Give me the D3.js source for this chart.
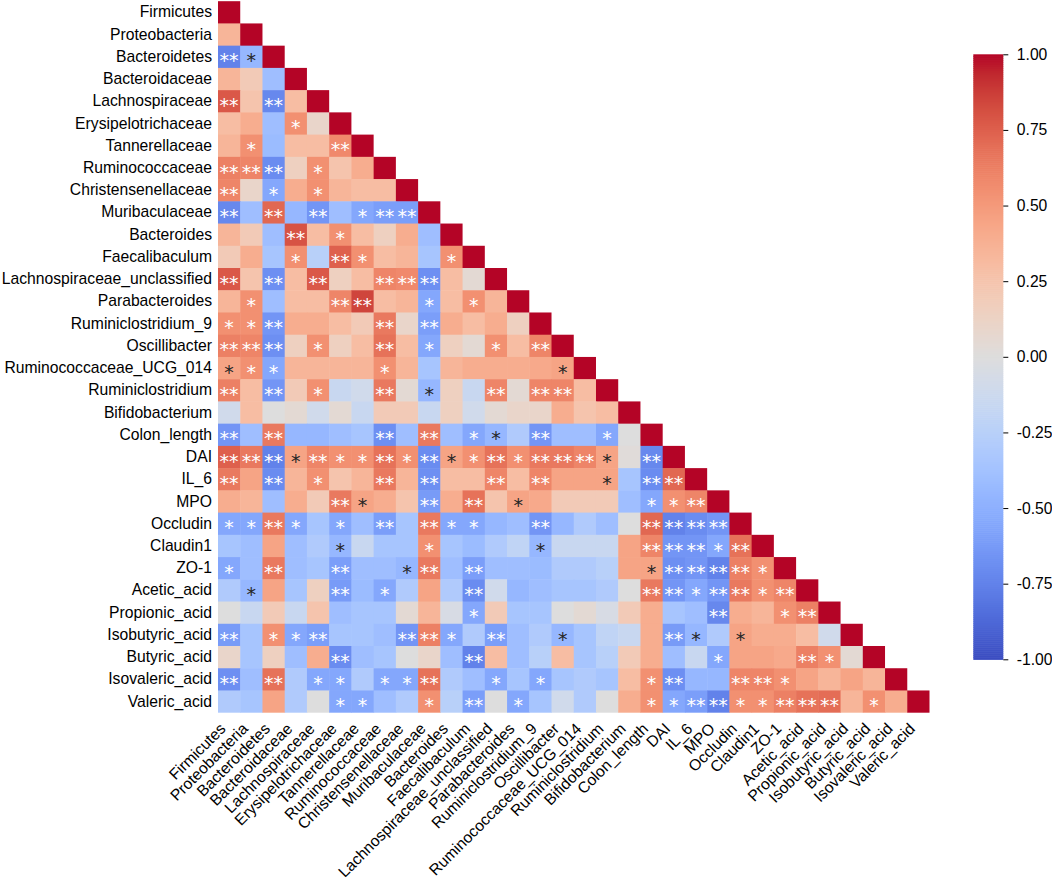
<!DOCTYPE html>
<html>
<head>
<meta charset="utf-8">
<script src="https://cdn.jsdelivr.net/npm/d3@7"></script>
<style>
  body { margin: 0; background: #fff; }
  svg { display: block; }
  text { font-family: "Liberation Sans", Arial, sans-serif; }
</style>
</head>
<body>
<svg id="chart" width="1052" height="879"></svg>
<script>
// ---------------- DATA ----------------
const labels = [
  "Firmicutes","Proteobacteria","Bacteroidetes","Bacteroidaceae","Lachnospiraceae",
  "Erysipelotrichaceae","Tannerellaceae","Ruminococcaceae","Christensenellaceae",
  "Muribaculaceae","Bacteroides","Faecalibaculum","Lachnospiraceae_unclassified",
  "Parabacteroides","Ruminiclostridium_9","Oscillibacter","Ruminococcaceae_UCG_014",
  "Ruminiclostridium","Bifidobacterium","Colon_length","DAI","IL_6","MPO","Occludin",
  "Claudin1","ZO-1","Acetic_acid","Propionic_acid","Isobutyric_acid","Butyric_acid",
  "Isovaleric_acid","Valeric_acid"
];

// lower-triangle correlation values (row i: columns 0..i)
const corr = [
  [1],
  [0.35, 1],
  [-0.75, -0.45, 1],
  [0.35, 0.2, -0.4, 1],
  [0.78, 0.25, -0.72, 0.3, 1],
  [0.3, 0.4, -0.4, 0.55, 0.1, 1],
  [0.35, 0.55, -0.42, 0.3, 0.3, 0.58, 1],
  [0.62, 0.6, -0.7, 0.15, 0.55, 0.25, 0.4, 1],
  [0.6, 0.1, -0.55, 0.4, 0.55, 0.35, 0.3, 0.3, 1],
  [-0.72, -0.4, 0.72, -0.45, -0.65, -0.4, -0.55, -0.6, -0.6, 1],
  [0.35, 0.2, -0.4, 0.8, 0.3, 0.55, 0.3, 0.15, 0.4, -0.4, 1],
  [0.2, 0.4, -0.35, 0.55, -0.25, 0.75, 0.55, 0.3, 0.35, -0.35, 0.55, 1],
  [0.78, 0.25, -0.68, 0.3, 0.78, 0.15, 0.3, 0.6, 0.58, -0.68, 0.3, 0.05, 1],
  [0.35, 0.55, -0.4, 0.3, 0.3, 0.6, 0.85, 0.3, 0.35, -0.55, 0.3, 0.55, 0.35, 1],
  [0.55, 0.55, -0.65, 0.4, 0.4, 0.3, 0.2, 0.65, 0.1, -0.6, 0.4, 0.3, 0.4, 0.15, 1],
  [0.62, 0.6, -0.68, 0.15, 0.55, 0.15, 0.3, 0.68, 0.3, -0.55, 0.15, 0.05, 0.55, 0.3, 0.6, 1],
  [0.45, 0.55, -0.55, 0.35, 0.35, 0.35, 0.35, 0.55, 0.35, -0.35, 0.35, 0.4, 0.4, 0.4, 0.42, 0.45, 1],
  [0.62, 0.3, -0.65, 0.2, 0.55, -0.15, -0.1, 0.65, 0.05, -0.45, 0.15, -0.15, 0.6, 0.05, 0.6, 0.6, 0.3, 1],
  [-0.1, 0.3, 0.0, 0.05, -0.1, 0.05, -0.15, 0.2, 0.2, -0.15, 0.15, -0.1, 0.05, 0.1, 0.1, 0.4, 0.25, 0.3, 1],
  [-0.65, -0.4, 0.65, -0.45, -0.45, -0.4, -0.35, -0.68, -0.4, 0.65, -0.4, -0.55, -0.45, -0.3, -0.65, -0.4, -0.4, -0.55, 0.0, 1],
  [0.75, 0.65, -0.75, 0.45, 0.6, 0.55, 0.55, 0.68, 0.55, -0.7, 0.45, 0.55, 0.68, 0.55, 0.65, 0.65, 0.6, 0.45, 0.02, -0.72, 1],
  [0.65, 0.45, -0.7, 0.35, 0.55, 0.25, 0.35, 0.65, 0.35, -0.68, 0.3, 0.3, 0.6, 0.3, 0.6, 0.45, 0.45, 0.45, -0.35, -0.7, 0.72, 1],
  [0.4, 0.35, -0.4, 0.4, 0.2, 0.65, 0.45, 0.4, 0.25, -0.62, 0.4, 0.68, 0.25, 0.45, 0.42, 0.2, 0.2, 0.2, -0.4, -0.55, 0.55, 0.6, 1],
  [-0.55, -0.55, 0.65, -0.55, -0.35, -0.55, -0.4, -0.6, -0.35, 0.65, -0.55, -0.55, -0.45, -0.4, -0.65, -0.45, -0.3, -0.4, 0.0, 0.72, -0.75, -0.7, -0.65, 1],
  [-0.35, -0.4, 0.45, -0.4, -0.3, -0.45, -0.15, -0.35, -0.35, 0.55, -0.35, -0.42, -0.3, -0.2, -0.45, -0.15, -0.15, -0.15, 0.45, 0.6, -0.65, -0.65, -0.55, 0.68, 1],
  [-0.55, -0.4, 0.65, -0.4, -0.35, -0.6, -0.4, -0.4, -0.45, 0.65, -0.4, -0.6, -0.4, -0.4, -0.42, -0.3, -0.3, -0.25, 0.45, 0.45, -0.68, -0.65, -0.75, 0.62, 0.55, 1],
  [-0.3, -0.45, 0.45, -0.35, 0.15, -0.62, -0.42, -0.55, -0.3, 0.45, -0.3, -0.7, -0.1, -0.45, -0.4, -0.35, -0.35, -0.3, 0.0, 0.65, -0.65, -0.55, -0.65, 0.65, 0.55, 0.6, 1],
  [0.0, -0.15, 0.2, -0.15, 0.25, -0.4, -0.35, -0.35, 0.05, 0.35, -0.05, -0.55, 0.2, -0.35, -0.35, 0.0, 0.05, -0.05, 0.2, 0.4, -0.35, -0.4, -0.72, 0.4, 0.35, 0.55, 0.62, 1],
  [-0.62, -0.35, 0.55, -0.55, -0.6, -0.35, -0.35, -0.4, -0.65, 0.62, -0.55, -0.3, -0.6, -0.4, -0.3, -0.45, -0.35, -0.2, -0.15, 0.4, -0.62, -0.45, -0.3, 0.45, 0.4, 0.4, 0.3, -0.1, 1],
  [0.1, -0.35, 0.15, -0.4, 0.4, -0.7, -0.4, -0.35, 0.0, 0.1, -0.4, -0.75, 0.3, -0.4, -0.25, 0.3, -0.35, -0.25, 0.2, 0.4, -0.4, -0.15, -0.55, 0.45, 0.45, 0.42, 0.62, 0.55, 0.05, 1],
  [-0.68, -0.4, 0.68, -0.3, -0.55, -0.55, -0.3, -0.55, -0.55, 0.68, -0.3, -0.4, -0.55, -0.35, -0.55, -0.35, -0.3, -0.35, 0.3, 0.55, -0.68, -0.45, -0.45, 0.6, 0.6, 0.55, 0.45, 0.35, 0.45, 0.35, 1],
  [-0.3, -0.35, 0.45, -0.3, 0.0, -0.55, -0.55, -0.4, -0.3, 0.55, -0.25, -0.6, 0.0, -0.55, -0.35, -0.1, -0.3, 0.0, 0.4, 0.55, -0.55, -0.6, -0.75, 0.55, 0.55, 0.62, 0.68, 0.7, 0.35, 0.55, 0.4, 1]
];

// significance level per cell: 0 none, 1 = "*", 2 = "**"
const sig = [
  [0],
  [0,0],
  [2,1,0],
  [0,0,0,0],
  [2,0,2,0,0],
  [0,0,0,1,0,0],
  [0,1,0,0,0,2,0],
  [2,2,2,0,1,0,0,0],
  [2,0,1,0,1,0,0,0,0],
  [2,0,2,0,2,0,1,2,2,0],
  [0,0,0,2,0,1,0,0,0,0,0],
  [0,0,0,1,0,2,1,0,0,0,1,0],
  [2,0,2,0,2,0,0,2,2,2,0,0,0],
  [0,1,0,0,0,2,2,0,0,1,0,1,0,0],
  [1,1,2,0,0,0,0,2,0,2,0,0,0,0,0],
  [2,2,2,0,1,0,0,2,0,1,0,0,1,0,2,0],
  [1,1,1,0,0,0,0,1,0,0,0,0,0,0,0,1,0],
  [2,0,2,0,1,0,0,2,0,1,0,0,2,0,2,2,0,0],
  [0,0,0,0,0,0,0,0,0,0,0,0,0,0,0,0,0,0,0],
  [2,0,2,0,0,0,0,2,0,2,0,1,1,0,2,0,0,1,0,0],
  [2,2,2,1,2,1,1,2,1,2,1,1,2,1,2,2,2,1,0,2,0],
  [2,0,2,0,1,0,0,2,0,2,0,0,2,0,2,0,0,1,0,2,2,0],
  [0,0,0,0,0,2,1,0,0,2,0,2,0,1,0,0,0,0,0,1,1,2,0],
  [1,1,2,1,0,1,0,2,0,2,1,1,0,0,2,0,0,0,0,2,2,2,2,0],
  [0,0,0,0,0,1,0,0,0,1,0,0,0,0,1,0,0,0,0,2,2,2,1,2,0],
  [1,0,2,0,0,2,0,0,1,2,0,2,0,0,0,0,0,0,0,1,2,2,2,2,1,0],
  [0,1,0,0,0,2,0,1,0,0,0,2,0,0,0,0,0,0,0,2,2,1,2,2,1,2,0],
  [0,0,0,0,0,0,0,0,0,0,0,1,0,0,0,0,0,0,0,0,0,0,2,0,0,1,2,0],
  [2,0,1,1,2,0,0,0,2,2,1,0,2,0,0,1,0,0,0,0,2,1,0,1,0,0,0,0,0],
  [0,0,0,0,0,2,0,0,0,0,0,2,0,0,0,0,0,0,0,0,0,0,1,0,0,0,2,1,0,0],
  [2,0,2,0,1,1,0,1,1,2,0,0,1,0,1,0,0,0,0,1,2,0,0,2,2,1,0,0,0,0,0],
  [0,0,0,0,0,1,1,0,0,1,0,2,0,1,0,0,0,0,0,1,1,2,2,1,1,2,2,2,0,1,0,0]
];

const cbarTicks = [-1, -0.75, -0.5, -0.25, 0, 0.25, 0.5, 0.75, 1];

// coolwarm colour map stops
const coolwarm = [
  [59,76,192],[68,90,204],[77,104,215],[87,117,225],[98,130,234],[108,142,241],
  [119,154,247],[130,165,251],[141,176,254],[152,185,255],[163,194,255],[174,201,253],
  [184,208,249],[194,213,244],[204,217,238],[213,219,230],[221,221,221],[229,216,209],
  [236,211,197],[241,204,185],[245,196,173],[247,187,160],[247,177,148],[247,166,135],
  [244,154,123],[241,141,111],[236,127,99],[229,112,88],[222,96,77],[213,80,66],
  [203,62,56],[192,40,47],[180,4,38]
];

// ---------------- CHART ----------------
const svg = d3.select("#chart");
const gridL = 218, gridR = 929.5, gridT = 1.2, gridB = 712.7;

const x = d3.scaleBand().domain(labels).range([gridL, gridR]).padding(0);
const y = d3.scaleBand().domain(labels).range([gridT, gridB]).padding(0);
const color = d3.scaleLinear()
  .domain(coolwarm.map((c, i) => -1 + 2 * i / (coolwarm.length - 1)))
  .range(coolwarm.map(c => `rgb(${c[0]},${c[1]},${c[2]})`))
  .interpolate(d3.interpolateRgb)
  .clamp(true);

function luminance(col) {
  const c = d3.rgb(col);
  const f = v => { v /= 255; return v <= 0.03928 ? v / 12.92 : Math.pow((v + 0.055) / 1.055, 2.4); };
  return 0.2126 * f(c.r) + 0.7152 * f(c.g) + 0.0722 * f(c.b);
}

const cells = [];
corr.forEach((row, i) => row.forEach((v, j) => cells.push({ i, j, v, s: sig[i][j] })));

const bw = x.bandwidth();
svg.append("g").selectAll("rect").data(cells).join("rect")
  .attr("x", d => x(labels[d.j]))
  .attr("y", d => y(labels[d.i]))
  .attr("width", d => bw + (d.j < d.i ? 0.5 : 0))
  .attr("height", d => y.bandwidth() + (d.i < labels.length - 1 ? 0.5 : 0))
  .attr("fill", d => color(d.v));

// significance stars
const starSize = 19;
svg.append("g").selectAll("text").data(cells.filter(d => d.s > 0)).join("text")
  .attr("x", d => x(labels[d.j]) + bw / 2)
  .attr("y", d => y(labels[d.i]) + y.bandwidth() / 2 + starSize * 0.56)
  .attr("text-anchor", "middle")
  .style("font-family", '"DejaVu Sans", sans-serif')
  .attr("font-size", starSize)
  .attr("fill", d => luminance(color(d.v)) > 0.408 ? "#262626" : "#ffffff")
  .text(d => d.s === 2 ? "**" : "*");

// y axis labels
const yAxis = svg.append("g")
  .attr("transform", `translate(${gridL},0)`)
  .call(d3.axisLeft(y).tickSize(0).tickPadding(6));
yAxis.select(".domain").remove();
yAxis.selectAll("text").attr("font-size", "15.7px").attr("fill", "#000")
  .style("font-family", '"Liberation Sans", Arial, sans-serif');

// x axis labels (rotated)
svg.append("g").selectAll("text").data(labels).join("text")
  .attr("transform", d => `translate(${x(d) + bw / 2 - 2.5},${gridB + 17}) rotate(-45)`)
  .attr("text-anchor", "end")
  .attr("font-size", "15.7px")
  .attr("fill", "#000")
  .text(d => d);

// colour bar
const cbX = 973.3, cbW = 30, cbT = 54.3, cbB = 659.3;
const cy = d3.scaleLinear().domain([-1, 1]).range([cbB, cbT]);
const nSteps = 300;
const steps = d3.range(nSteps).map(k => -1 + 2 * k / nSteps);
svg.append("g").selectAll("rect").data(steps).join("rect")
  .attr("x", cbX)
  .attr("y", v => cy(v + 2 / nSteps))
  .attr("width", cbW)
  .attr("height", v => cy(v) - cy(v + 2 / nSteps) + 0.6)
  .attr("fill", v => color(v + 1 / nSteps));

const fmt = d3.format(".2f");
const cAxis = svg.append("g")
  .attr("transform", `translate(${cbX + cbW},0)`)
  .call(d3.axisRight(cy).tickValues(cbarTicks).tickSize(5).tickPadding(8.5)
        .tickFormat(d => fmt(d).replace("\u2212", "-")));
cAxis.select(".domain").remove();
cAxis.selectAll("line").attr("stroke", "#000").attr("stroke-width", 1);
cAxis.selectAll("text").attr("font-size", "15.7px").attr("fill", "#000")
  .style("font-family", '"Liberation Sans", Arial, sans-serif');
</script>
</body>
</html>
